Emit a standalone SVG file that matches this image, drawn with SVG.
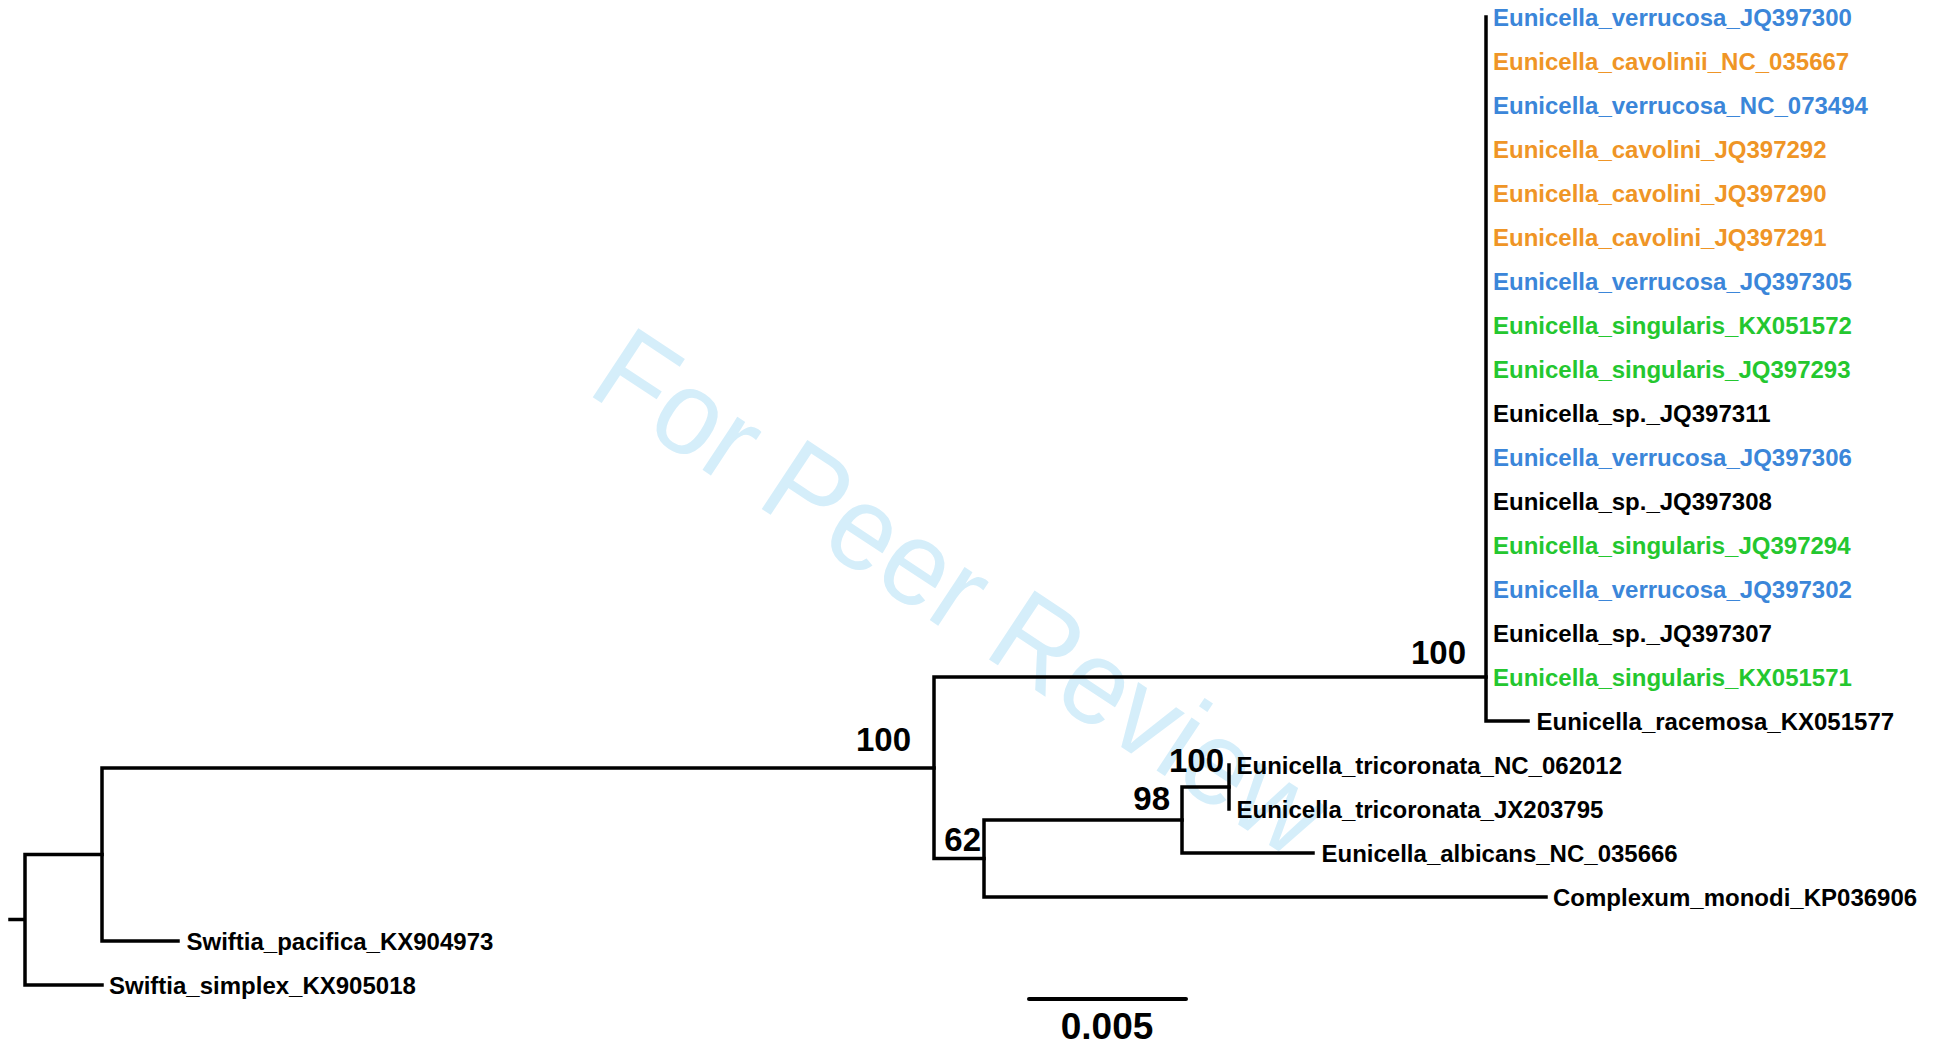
<svg xmlns="http://www.w3.org/2000/svg" width="1943" height="1046" viewBox="0 0 1943 1046">
<style>
.br{fill:none;stroke:#000;stroke-width:3.5;stroke-linecap:square;stroke-linejoin:miter}
.lb{font-family:"Liberation Sans",Arial,sans-serif;font-weight:bold;font-size:24px;fill:#000}
.bs{font-family:"Liberation Sans",Arial,sans-serif;font-weight:bold;font-size:33px;fill:#000;text-anchor:end}
.blue{fill:#3b86d9}
.orange{fill:#ef9526}
.green{fill:#24c72f}
.wm{font-family:"Liberation Sans",Arial,sans-serif;font-size:120px;fill:#d5eefa}
</style>
<rect width="1943" height="1046" fill="#fff"/>
<text class="wm" transform="translate(585,392) rotate(33.5)" x="0" y="0" textLength="849" lengthAdjust="spacingAndGlyphs">For Peer Review</text>
<g id="connectors">
<path class="br" d="M10,919.5 H25 M25,854.5 V985 M25,985 H102 M25,854.5 H102"/>
<path class="br" d="M102,768 V941 M102,941 H178 M102,768 H934"/>
<path class="br" d="M934,677 V858.5 M934,677 H1486 M934,858.5 H984"/>
<path class="br" d="M1486,17 V721 M1486,721 H1528"/>
<path class="br" d="M984,820 V897 M984,897 H1546 M984,820 H1182"/>
<path class="br" d="M1182,787 V853 M1182,853 H1313 M1182,787 H1229"/>
<path class="br" d="M1229,765 V809"/>
<path class="br" d="M1029,999 H1186" style="stroke-width:4;stroke-linecap:round"/>
</g>
<g id="leaf-0"><text class="lb blue" x="1493" y="26">Eunicella_verrucosa_JQ397300</text></g>
<g id="leaf-1"><text class="lb orange" x="1493" y="70">Eunicella_cavolinii_NC_035667</text></g>
<g id="leaf-2"><text class="lb blue" x="1493" y="114">Eunicella_verrucosa_NC_073494</text></g>
<g id="leaf-3"><text class="lb orange" x="1493" y="158">Eunicella_cavolini_JQ397292</text></g>
<g id="leaf-4"><text class="lb orange" x="1493" y="202">Eunicella_cavolini_JQ397290</text></g>
<g id="leaf-5"><text class="lb orange" x="1493" y="246">Eunicella_cavolini_JQ397291</text></g>
<g id="leaf-6"><text class="lb blue" x="1493" y="290">Eunicella_verrucosa_JQ397305</text></g>
<g id="leaf-7"><text class="lb green" x="1493" y="334">Eunicella_singularis_KX051572</text></g>
<g id="leaf-8"><text class="lb green" x="1493" y="378">Eunicella_singularis_JQ397293</text></g>
<g id="leaf-9"><text class="lb" x="1493" y="422">Eunicella_sp._JQ397311</text></g>
<g id="leaf-10"><text class="lb blue" x="1493" y="466">Eunicella_verrucosa_JQ397306</text></g>
<g id="leaf-11"><text class="lb" x="1493" y="510">Eunicella_sp._JQ397308</text></g>
<g id="leaf-12"><text class="lb green" x="1493" y="554">Eunicella_singularis_JQ397294</text></g>
<g id="leaf-13"><text class="lb blue" x="1493" y="598">Eunicella_verrucosa_JQ397302</text></g>
<g id="leaf-14"><text class="lb" x="1493" y="642">Eunicella_sp._JQ397307</text></g>
<g id="leaf-15"><text class="lb green" x="1493" y="686">Eunicella_singularis_KX051571</text></g>
<g id="leaf-16"><text class="lb" x="1536.5" y="730">Eunicella_racemosa_KX051577</text></g>
<g id="leaf-17"><text class="lb" x="1236.5" y="774">Eunicella_tricoronata_NC_062012</text></g>
<g id="leaf-18"><text class="lb" x="1236.5" y="818">Eunicella_tricoronata_JX203795</text></g>
<g id="leaf-19"><text class="lb" x="1321.5" y="862">Eunicella_albicans_NC_035666</text></g>
<g id="leaf-20"><text class="lb" x="1553" y="906">Complexum_monodi_KP036906</text></g>
<g id="leaf-21"><text class="lb" x="186.5" y="950">Swiftia_pacifica_KX904973</text></g>
<g id="leaf-22"><text class="lb" x="109" y="994">Swiftia_simplex_KX905018</text></g>
<g id="support-1"><text class="bs" x="911" y="751">100</text></g>
<g id="support-2"><text class="bs" x="1466" y="664">100</text></g>
<g id="support-3"><text class="bs" x="981" y="851">62</text></g>
<g id="support-4"><text class="bs" x="1170" y="809.5">98</text></g>
<g id="support-5"><text class="bs" x="1224" y="772">100</text></g>
<g id="scale"><text x="1107" y="1039" font-family="Liberation Sans, Arial, sans-serif" font-weight="bold" font-size="37" text-anchor="middle">0.005</text></g>
</svg>
